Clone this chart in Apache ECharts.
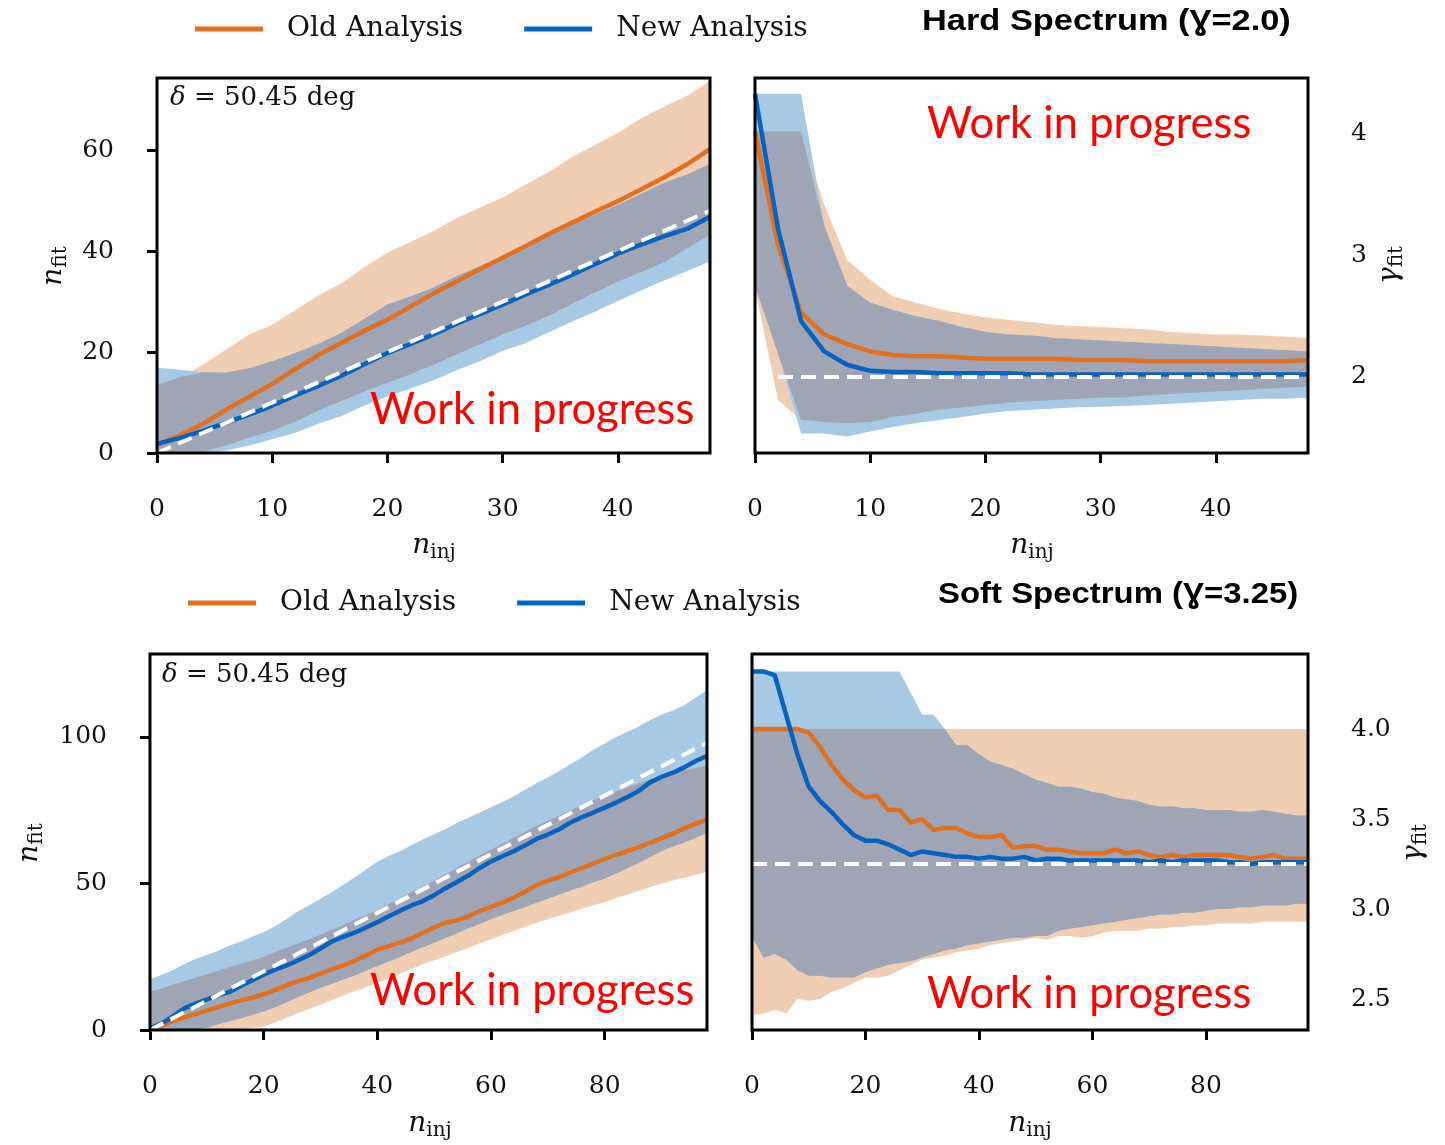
<!DOCTYPE html>
<html><head><meta charset="utf-8">
<script src="https://cdn.jsdelivr.net/npm/echarts@6/dist/echarts.min.js"></script>
<style>html,body{margin:0;padding:0;background:#fff}#c{width:1445px;height:1145px}</style>
</head><body><div id="c"></div><script>
// ---------- DATA ----------
const topX = [0,2,4,6,8,10,12,14,16,18,20,22,24,26,28,30,32,34,36,38,40,42,44,46,48];
const bottomX = [0,2,4,6,8,10,12,14,16,18,20,22,24,26,28,30,32,34,36,38,40,42,44,46,48,50,52,54,56,58,60,62,64,66,68,70,72,74,76,78,80,82,84,86,88,90,92,94,96,98];
const topXTicks = [0,10,20,30,40];
const bottomXTicks = [0,20,40,60,80];
const hardNTicks = [0,20,40,60];
const hardGTicks = [2,3,4];
const softNTicks = [0,50,100];
const softGTicks = [2.5,3.0,3.5,4.0];
const hardGammaTrue = 2.0;
const softGammaTrue = 3.25;

// Hard spectrum, n_fit
const hardOldMed = [1.6,3.5,5.8,8.6,11.1,13.7,16.6,19.4,21.8,24.2,26.4,29.0,31.6,34.0,36.4,38.7,41.0,43.4,45.6,47.8,49.9,52.2,54.6,57.2,60.2];
const hardOldLo  = [0,0,0.3,1.5,3.0,4.4,6.2,8.4,10.3,12.2,13.9,15.6,17.5,19.5,21.5,23.5,25.2,27.2,29.5,31.8,34.0,35.8,37.8,40.5,43.3];
const hardOldHi  = [13.5,15.0,17.5,20.5,23.5,25.4,28.3,31.2,33.6,36.8,39.7,41.8,44.0,46.5,48.6,50.6,53.2,55.7,58.6,61.0,63.4,66.3,68.6,70.8,73.7];
const hardNewMed = [1.8,3.0,4.4,6.0,7.6,9.4,11.4,13.3,15.3,17.6,19.8,21.6,23.5,25.6,27.5,29.4,31.4,33.3,35.3,37.4,39.5,41.3,42.9,44.4,46.8];
const hardNewLo  = [0,0,0,0.5,1.5,2.7,4.0,5.8,7.3,9.4,11.2,12.8,14.4,16.4,18.2,20.2,21.8,23.9,26.0,28.0,30.1,32.2,34.2,36.0,38.0];
const hardNewHi  = [16.9,16.5,16.0,15.9,16.8,18.2,19.8,21.6,23.8,26.6,29.4,31.0,32.8,35.0,37.0,39.0,41.0,43.2,45.3,47.2,49.2,51.3,53.5,55.2,57.2];

// Hard spectrum, gamma_fit
const hardGOldMed = [4.02,3.09,2.53,2.35,2.27,2.21,2.18,2.17,2.17,2.16,2.15,2.15,2.15,2.15,2.14,2.14,2.14,2.13,2.13,2.13,2.13,2.13,2.13,2.13,2.14];
const hardGOldLo  = [2.73,1.81,1.645,1.63,1.62,1.63,1.67,1.70,1.73,1.75,1.77,1.79,1.80,1.81,1.82,1.83,1.83,1.85,1.86,1.87,1.88,1.89,1.90,1.91,1.92];
const hardGOldHi  = [4.02,4.02,4.02,3.42,2.96,2.80,2.66,2.61,2.56,2.52,2.49,2.47,2.45,2.43,2.42,2.41,2.40,2.39,2.37,2.36,2.35,2.35,2.34,2.33,2.32];
const hardGNewMed = [4.33,3.22,2.46,2.21,2.10,2.05,2.04,2.04,2.03,2.03,2.03,2.03,2.02,2.02,2.02,2.02,2.02,2.02,2.02,2.02,2.02,2.02,2.02,2.02,2.02];
const hardGNewLo  = [2.75,2.19,1.535,1.535,1.51,1.55,1.59,1.62,1.645,1.67,1.70,1.72,1.73,1.74,1.75,1.755,1.76,1.77,1.78,1.79,1.80,1.81,1.82,1.82,1.83];
const hardGNewHi  = [4.33,4.33,4.33,3.25,2.75,2.61,2.55,2.50,2.46,2.41,2.37,2.35,2.34,2.32,2.31,2.30,2.29,2.28,2.27,2.26,2.25,2.24,2.23,2.22,2.21];

// Soft spectrum, n_fit
const softOldMed = [0.2,1.5,3.0,4.3,5.4,6.6,7.8,9.0,10.1,11.0,12.2,13.6,15.2,16.6,17.8,19.2,20.8,22.0,23.6,25.4,27.4,28.6,29.8,31.2,33.2,35.0,36.6,37.4,38.8,40.6,42.0,43.4,45.2,47.2,49.4,51.0,52.2,53.8,55.2,56.8,58.4,59.8,61.0,62.4,63.9,65.4,67.0,68.8,70.4,71.8];
const softOldLo  = [0,0,0,0,0,0,0,0.1,0.4,0.8,1.2,2.6,4.2,5.8,7.2,8.6,10.2,11.8,13.2,14.6,16.1,17.6,19.2,20.8,22.4,23.8,25.2,26.6,28.0,29.6,31.0,32.4,33.8,35.2,36.6,37.9,39.0,40.2,41.4,42.6,43.7,45.0,46.2,47.4,48.8,50.0,51.0,52.0,53.0,54.0];
const softOldHi  = [13.2,14.2,15.4,16.6,17.8,19.0,20.2,21.4,22.6,23.8,25.0,26.6,28.0,29.6,31.0,32.5,34.2,35.8,37.6,39.2,41.0,43.0,45.0,47.0,49.0,51.0,53.2,55.4,57.4,59.6,61.5,63.6,65.6,67.6,69.6,71.5,73.2,75.0,76.8,78.4,80.0,81.4,82.8,84.2,85.6,86.8,87.8,88.6,89.4,90.2];
const softNewMed = [0.6,2.2,4.6,7.4,9.0,10.4,11.9,13.0,15.1,17.0,18.9,20.6,22.0,23.7,25.6,27.8,30.2,31.8,33.2,35.0,36.8,38.8,40.7,42.5,44.0,46.0,48.4,50.5,52.7,55.3,57.5,59.3,61.0,63.0,65.2,66.7,68.5,70.8,72.6,74.2,75.9,77.6,79.5,81.6,84.5,86.4,87.8,89.6,91.8,93.5];
const softNewLo  = [0,0,0,0,0,0.8,2.0,3.0,4.0,5.2,6.3,7.8,9.5,11.2,12.8,14.4,15.8,17.2,18.6,20.2,21.8,23.4,25.0,26.6,28.2,29.8,31.4,33.0,34.6,36.2,37.9,39.2,40.6,42.0,43.4,44.8,46.2,47.6,49.0,50.4,51.7,53.4,55.2,57.0,59.0,61.0,62.6,64.0,65.6,67.2];
const softNewHi  = [17.2,18.8,20.4,22.4,24.2,25.6,27.0,28.8,30.2,31.8,33.4,35.4,37.8,40.4,42.6,44.8,47.0,49.6,52.0,54.8,57.4,59.4,61.0,63.0,65.0,66.8,68.6,70.6,72.4,74.2,76.0,77.8,79.8,82.0,84.2,86.2,88.4,90.8,93.0,95.6,97.8,100.0,101.8,103.6,105.8,107.6,109.0,110.8,113.4,116.0];

// Soft spectrum, gamma_fit
const softGOldMed = [4.0,4.0,4.0,4.0,4.0,3.98,3.90,3.80,3.72,3.66,3.62,3.63,3.55,3.55,3.48,3.50,3.44,3.45,3.45,3.42,3.40,3.40,3.41,3.34,3.35,3.35,3.33,3.33,3.32,3.31,3.31,3.31,3.33,3.31,3.32,3.30,3.29,3.30,3.29,3.30,3.30,3.30,3.30,3.29,3.28,3.29,3.30,3.28,3.28,3.28];
const softGOldLo  = [2.41,2.42,2.44,2.42,2.50,2.49,2.50,2.54,2.56,2.59,2.62,2.62,2.63,2.66,2.69,2.72,2.73,2.74,2.76,2.77,2.78,2.80,2.81,2.82,2.83,2.84,2.83,2.85,2.85,2.84,2.85,2.87,2.88,2.88,2.88,2.89,2.89,2.90,2.90,2.91,2.91,2.92,2.92,2.92,2.92,2.93,2.93,2.93,2.93,2.93];
const softGOldHi  = [4.0,4.0,4.0,4.0,4.0,4.0,4.0,4.0,4.0,4.0,4.0,4.0,4.0,4.0,4.0,4.0,4.0,4.0,4.0,4.0,4.0,4.0,4.0,4.0,4.0,4.0,4.0,4.0,4.0,4.0,4.0,4.0,4.0,4.0,4.0,4.0,4.0,4.0,4.0,4.0,4.0,4.0,4.0,4.0,4.0,4.0,4.0,4.0,4.0,4.0];
const softGNewMed = [4.32,4.32,4.30,4.08,3.86,3.68,3.60,3.54,3.47,3.41,3.38,3.38,3.36,3.33,3.30,3.32,3.31,3.30,3.29,3.29,3.28,3.29,3.28,3.28,3.29,3.27,3.28,3.28,3.27,3.27,3.27,3.27,3.27,3.27,3.27,3.26,3.27,3.26,3.27,3.27,3.27,3.27,3.26,3.26,3.25,3.26,3.26,3.26,3.26,3.26];
const softGNewLo  = [2.85,2.73,2.75,2.72,2.66,2.63,2.63,2.62,2.62,2.62,2.65,2.67,2.69,2.70,2.71,2.73,2.75,2.77,2.78,2.80,2.81,2.82,2.83,2.84,2.84,2.85,2.85,2.88,2.89,2.90,2.91,2.92,2.93,2.94,2.95,2.96,2.97,2.97,2.98,2.98,2.99,3.00,3.00,3.01,3.01,3.02,3.02,3.02,3.03,3.03];
const softGNewHi  = [4.32,4.32,4.32,4.32,4.32,4.32,4.32,4.32,4.32,4.32,4.32,4.32,4.32,4.32,4.20,4.08,4.08,4.00,3.91,3.91,3.86,3.82,3.80,3.78,3.75,3.72,3.70,3.68,3.68,3.67,3.65,3.64,3.62,3.61,3.60,3.58,3.57,3.57,3.56,3.56,3.55,3.55,3.55,3.54,3.54,3.55,3.54,3.53,3.52,3.52];

// ---------- STYLE / LAYOUT ----------
const SERIF = "'DejaVu Serif', serif";
const COL = {old:'#e0701f', neu:'#0563bf', oldBand:'#f1cdb1', newBand:'#a6c9e5', both:'#a0a5b5'};
const TXT = '#111';

const panels = [
  {grid:{left:157,top:78,width:553,height:375}, xs:topX, xMax:48, xTicks:topXTicks, yMin:0, yMax:74.3, yTicks:hardNTicks, yPos:'left',
   om:hardOldMed, ol:hardOldLo, oh:hardOldHi, nm:hardNewMed, nl:hardNewLo, nh:hardNewHi, truth:'diag'},
  {grid:{left:755,top:78,width:553,height:375}, xs:topX, xMax:48, xTicks:topXTicks, yMin:1.374, yMax:4.46, yTicks:hardGTicks, yPos:'right',
   om:hardGOldMed, ol:hardGOldLo, oh:hardGOldHi, nm:hardGNewMed, nl:hardGNewLo, nh:hardGNewHi, truth:hardGammaTrue},
  {grid:{left:150,top:654,width:557,height:376}, xs:bottomX, xMax:98, xTicks:bottomXTicks, yMin:0, yMax:128.3, yTicks:softNTicks, yPos:'left',
   om:softOldMed, ol:softOldLo, oh:softOldHi, nm:softNewMed, nl:softNewLo, nh:softNewHi, truth:'diag'},
  {grid:{left:752,top:654,width:556,height:376}, xs:bottomX, xMax:98, xTicks:bottomXTicks, yMin:2.328, yMax:4.417, yTicks:softGTicks, yPos:'right', fmt1:true,
   om:softGOldMed, ol:softGOldLo, oh:softGOldHi, nm:softGNewMed, nl:softGNewLo, nh:softGNewHi, truth:softGammaTrue}
];

const grids = [], xAxes = [], yAxes = [], series = [];

// filled band between lo and hi, drawn as one polygon through the axes' coordinate mapping
function band(idx, xs, lo, hi, color) {
  return {type:'custom', xAxisIndex:idx, yAxisIndex:idx, silent:true, z:1,
    data:[[xs[0], lo[0]]],
    renderItem:function (params, api) {
      const pts = [];
      for (let k = 0; k < xs.length; k++) pts.push(api.coord([xs[k], hi[k]]));
      for (let k = xs.length - 1; k >= 0; k--) pts.push(api.coord([xs[k], lo[k]]));
      return {type:'polygon', shape:{points:pts}, style:{fill:color}};
    }};
}

panels.forEach((p, i) => {
  grids.push(Object.assign({show:true, borderColor:'#000', borderWidth:3, backgroundColor:'rgba(0,0,0,0)', z:10}, p.grid));
  xAxes.push({gridIndex:i, type:'value', min:0, max:p.xMax, position:'bottom',
    axisLine:{show:false}, splitLine:{show:false},
    axisTick:{show:true, inside:false, length:10, lineStyle:{width:3, color:'#000'}, customValues:p.xTicks},
    axisLabel:{customValues:p.xTicks, margin:44, fontFamily:SERIF, fontSize:25, color:TXT}});
  yAxes.push({gridIndex:i, type:'value', min:p.yMin, max:p.yMax, position:p.yPos,
    axisLine:{show:false}, splitLine:{show:false},
    axisTick:{show:true, inside:false, length:10, lineStyle:{width:3, color:'#000'}, customValues:p.yTicks},
    axisLabel:{customValues:p.yTicks, margin:43, fontFamily:SERIF, fontSize:25, color:TXT,
      formatter: p.fmt1 ? (v => Number(v).toFixed(1)) : (v => String(v))}});

  series.push(band(i, p.xs, p.ol, p.oh, COL.oldBand));
  series.push(band(i, p.xs, p.nl, p.nh, COL.newBand));
  const bothLo = p.xs.map((x,k) => Math.max(p.ol[k], p.nl[k]));
  const bothHi = p.xs.map((x,k) => Math.max(bothLo[k], Math.min(p.oh[k], p.nh[k])));
  series.push(band(i, p.xs, bothLo, bothHi, COL.both));

  series.push({type:'line', name:'Old Analysis', xAxisIndex:i, yAxisIndex:i, color:COL.old, itemStyle:{color:COL.old},
    data:p.xs.map((x,k)=>[x, p.om[k]]), symbol:'none', lineStyle:{width:4.5, color:COL.old}, silent:true, z:3});
  series.push({type:'line', name:'New Analysis', xAxisIndex:i, yAxisIndex:i, color:COL.neu, itemStyle:{color:COL.neu},
    data:p.xs.map((x,k)=>[x, p.nm[k]]), symbol:'none', lineStyle:{width:4.5, color:COL.neu}, silent:true, z:4});

  const tData = p.truth === 'diag' ? [[0,0],[p.xMax,p.xMax]] : [[0,p.truth],[p.xMax,p.truth]];
  series.push({type:'line', name:'truth-'+i, xAxisIndex:i, yAxisIndex:i, data:tData, symbol:'none',
    lineStyle:{width:4, color:'#ffffff', type:[15,8]}, silent:true, z:5});
});

const legendBase = {data:['Old Analysis','New Analysis'], icon:'rect', itemWidth:68, itemHeight:5, itemGap:61, padding:0,
  selectedMode:false, textStyle:{fontFamily:SERIF, fontSize:28, color:TXT, padding:[0,0,0,19]}};

function nLabel(x, y, sub, rot) {
  return {type:'text', x:x, y:y, rotation:rot||0, silent:true, z:20,
    style:{text:'{n|n}{s|'+sub+'}', textAlign:'center', textVerticalAlign:'middle',
      rich:{n:{fontFamily:SERIF, fontStyle:'italic', fontSize:28, fill:TXT},
            s:{fontFamily:SERIF, fontSize:20, fill:TXT, padding:[14,0,0,0]}}}};
}
function gLabel(x, y) {
  return {type:'text', x:x, y:y, rotation:Math.PI/2, silent:true, z:20,
    style:{text:'{g|γ}{s|fit}', textAlign:'center', textVerticalAlign:'middle',
      rich:{g:{fontFamily:SERIF, fontStyle:'italic', fontSize:28, fill:TXT},
            s:{fontFamily:SERIF, fontSize:20, fill:TXT, padding:[14,0,0,0]}}}};
}
function wip(x, y) {
  return {type:'text', x:x, y:y, silent:true, z:20,
    style:{text:'Work in progress', fill:'#ff0000', fontFamily:"Lato, 'Open Sans', sans-serif", fontSize:43.5,
      textAlign:'left', textVerticalAlign:'middle'}};
}
function delta(x, y) {
  return {type:'text', x:x, y:y, silent:true, z:20,
    style:{text:'{d|δ} = 50.45 deg', fontFamily:SERIF, fontSize:26, fill:TXT, textAlign:'left', textVerticalAlign:'middle',
      rich:{d:{fontFamily:SERIF, fontStyle:'italic', fontSize:26, fill:TXT}}}};
}
function title(x, y, t, sx) {
  return {type:'text', x:x, y:y, silent:true, z:20, scaleX:sx, scaleY:1,
    style:{text:t, fill:'#000', fontFamily:"'Liberation Sans', 'DejaVu Sans', sans-serif", fontWeight:'bold', fontSize:29,
      textAlign:'left', textVerticalAlign:'middle'}};
}

const option = {
  animation:false,
  backgroundColor:'#ffffff',
  grid:grids, xAxis:xAxes, yAxis:yAxes, series:series,
  legend:[Object.assign({left:195, top:15}, legendBase), Object.assign({left:188, top:589}, legendBase)],
  graphic:[
    title(922, 22, 'Hard Spectrum (Ɣ=2.0)', 1.186),
    title(938, 595, 'Soft Spectrum (Ɣ=3.25)', 1.135),
    delta(170, 98), delta(162, 675),
    wip(370, 410), wip(927, 124), wip(370, 991), wip(927, 994),
    nLabel(434, 546, 'inj'), nLabel(1032, 546, 'inj'), nLabel(430, 1124, 'inj'), nLabel(1030, 1124, 'inj'),
    nLabel(54, 266, 'fit', Math.PI/2), nLabel(30, 843, 'fit', Math.PI/2),
    gLabel(1390, 265), gLabel(1414, 843)
  ]
};
const chart = echarts.init(document.getElementById('c'), null, {renderer:'canvas'});
chart.setOption(option);
</script></body></html>
